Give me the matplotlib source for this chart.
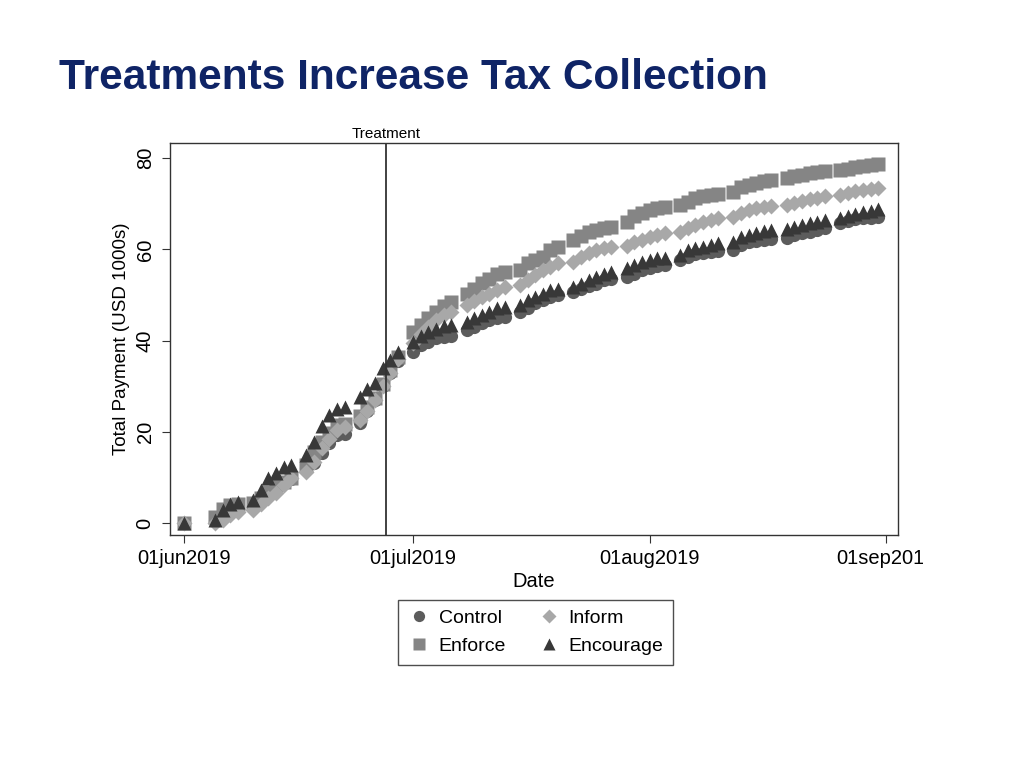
import numpy as np
import pandas as pd
import matplotlib
matplotlib.use("Agg")
import matplotlib.pyplot as plt
import matplotlib.dates as mdates
from matplotlib.transforms import Bbox

plt.rcParams['font.family'] = ['Liberation Sans', 'DejaVu Sans']

# dates: 1 Jun, then 5-8 Jun, then Mon-Sat up to 31 Aug
dates = pd.DatetimeIndex(['2019-06-01']).append(
    pd.bdate_range('2019-06-05', '2019-08-31', freq='C',
                   weekmask='Mon Tue Wed Thu Fri Sat'))

control = [0,
           0.5, 1.8, 2.8, 3.2,
           3.5, 4.8, 6.3, 7.8, 9.0, 9.6,
           12.0, 13.1, 15.3, 17.5, 19.3, 19.5,
           22.0, 24.5, 27.0, 30.0, 33.0, 35.5,
           37.5, 39.0, 39.7, 40.5, 40.8, 41.0,
           42.3, 43.0, 43.8, 44.5, 44.9, 45.1,
           46.3, 47.1, 48.2, 48.9, 49.6, 50.0,
           50.7, 51.4, 51.9, 52.5, 53.3, 53.6,
           54.0, 54.7, 55.5, 56.0, 56.3, 56.5,
           57.6, 58.4, 59.0, 59.2, 59.5, 59.7,
           59.8, 60.9, 61.5, 61.8, 62.0, 62.2,
           62.4, 63.1, 63.5, 63.8, 64.2, 64.6,
           65.7, 66.2, 66.6, 66.8, 66.9, 67.1]

enforce = [0,
           1.4, 3.0, 3.9, 4.3,
           4.5, 5.6, 6.8, 8.3, 9.1, 9.8,
           12.7, 15.6, 17.8, 19.8, 21.5, 21.7,
           23.5, 25.5, 27.5, 30.5, 33.5, 36.5,
           41.8, 43.5, 45.0, 46.3, 47.6, 48.5,
           50.3, 51.4, 52.6, 53.6, 54.7, 55.0,
           55.5, 56.9, 57.6, 58.4, 59.8, 60.5,
           62.0, 63.0, 63.8, 64.3, 64.7, 65.0,
           66.0, 67.3, 68.0, 68.6, 69.0, 69.3,
           69.7, 70.4, 71.2, 71.7, 71.9, 72.1,
           72.6, 73.7, 74.2, 74.6, 75.0, 75.3,
           75.6, 76.0, 76.3, 76.7, 77.0, 77.2,
           77.4, 77.7, 78.0, 78.2, 78.5, 78.7]

inform = [0,
          0.0, 0.7, 1.8, 2.5,
          2.8, 4.3, 5.4, 6.5, 8.3, 9.8,
          11.2, 13.5, 16.5, 18.5, 20.5, 21.0,
          22.5, 24.5, 27.0, 30.0, 33.0, 36.0,
          39.5, 41.5, 43.0, 44.5, 45.5, 46.3,
          47.8, 48.6, 49.5, 50.3, 51.0, 51.8,
          52.2, 53.3, 54.4, 55.5, 56.2, 57.0,
          57.3, 58.4, 59.1, 59.8, 60.2, 60.6,
          60.8, 61.5, 62.0, 62.8, 63.2, 63.5,
          63.8, 64.6, 65.3, 66.0, 66.4, 66.8,
          67.1, 67.9, 68.6, 69.0, 69.3, 69.6,
          69.8, 70.2, 70.5, 71.0, 71.3, 71.6,
          71.9, 72.3, 72.7, 73.0, 73.2, 73.4]

encourage = [0,
             0.7, 2.8, 4.3, 4.7,
             5.0, 7.2, 9.8, 10.9, 12.3, 12.7,
             14.9, 17.8, 21.3, 23.7, 24.9, 25.4,
             27.7, 29.5, 30.8, 33.9, 35.7, 37.5,
             39.7, 41.0, 41.9, 42.5, 43.2, 43.4,
             44.1, 44.9, 45.6, 46.3, 47.1, 47.3,
             47.8, 48.9, 49.6, 50.3, 51.1, 51.4,
             51.8, 52.5, 53.3, 54.0, 54.7, 55.1,
             55.8, 56.5, 57.3, 57.6, 58.0, 58.2,
             58.7, 59.8, 60.2, 60.6, 60.9, 61.3,
             61.7, 62.6, 63.2, 63.6, 64.0, 64.2,
             64.4, 64.9, 65.3, 65.7, 66.0, 66.4,
             66.8, 67.3, 67.7, 68.1, 68.5, 68.8]

treatment_day = pd.Timestamp('2019-06-27 10:00')
xticks = pd.to_datetime(['2019-06-01', '2019-07-01', '2019-08-01', '2019-09-01'])
xticklabels = ['01jun2019', '01jul2019', '01aug2019', '01sep2019']

fig = plt.figure(figsize=(10.24, 7.68), dpi=100)
fig.text(0.058, 0.899, 'Treatments Increase Tax Collection', fontsize=30.5,
         fontweight='bold', color='#0f2466', va='center', ha='left')

ax = fig.add_axes([0.166, 0.3034, 0.711, 0.5104])

ax.plot(dates, control, 'o', ms=9.5, color='#5c5c5c', mec='none', label='Control')
ax.plot(dates, enforce, 's', ms=9.5, color='#858585', mec='none', label='Enforce')
ax.plot(dates, inform, 'D', ms=8, color='#a8a8a8', mec='none', label='Inform')
ax.plot(dates, encourage, '^', ms=10.5, color='#383838', mec='none', label='Encourage')

ax.axvline(treatment_day, color='#333333', lw=1.3)
ax.text(treatment_day, 1.005, 'Treatment', transform=ax.get_xaxis_transform(),
        ha='center', va='bottom', fontsize=11)

ax.set_xlim(pd.Timestamp('2019-06-01') - pd.Timedelta(days=1.9),
            pd.Timestamp('2019-06-01') + pd.Timedelta(days=93.6))
ax.set_ylim(-2.6, 83.3)
ax.set_xticks(xticks)
ax.set_xticklabels(xticklabels, fontsize=14.5)
ax.set_yticks([0, 20, 40, 60, 80])
ax.tick_params(axis='y', labelrotation=90, labelsize=14.5, length=6,
               color='#333333', pad=5)
ax.tick_params(axis='x', length=6, color='#333333', pad=4)
for lab in ax.get_yticklabels():
    lab.set_va('center')
ax.set_xlabel('Date', fontsize=14.5, labelpad=3)
ax.set_ylabel('Total Payment (USD 1000s)', fontsize=13.5, labelpad=4)
for sp in ax.spines.values():
    sp.set_color('#333333')
    sp.set_linewidth(1.0)

# the last tick label is cut off at the page edge in the original
fig.canvas.draw()
clip = Bbox([[0, 0], [923, 768]])
for lab in ax.get_xticklabels():
    lab.set_clip_on(True)
    lab.set_clip_box(clip)

leg = ax.legend(ncol=2, loc='upper center', bbox_to_anchor=(0.502, -0.14),
                fontsize=14, frameon=True, fancybox=False, edgecolor='#222222',
                handletextpad=0.4, columnspacing=1.6, borderpad=0.5,
                labelspacing=0.55, handlelength=1.2, markerscale=0.85)
leg.get_frame().set_linewidth(1.0)

fig.savefig('out.png', dpi=100)
